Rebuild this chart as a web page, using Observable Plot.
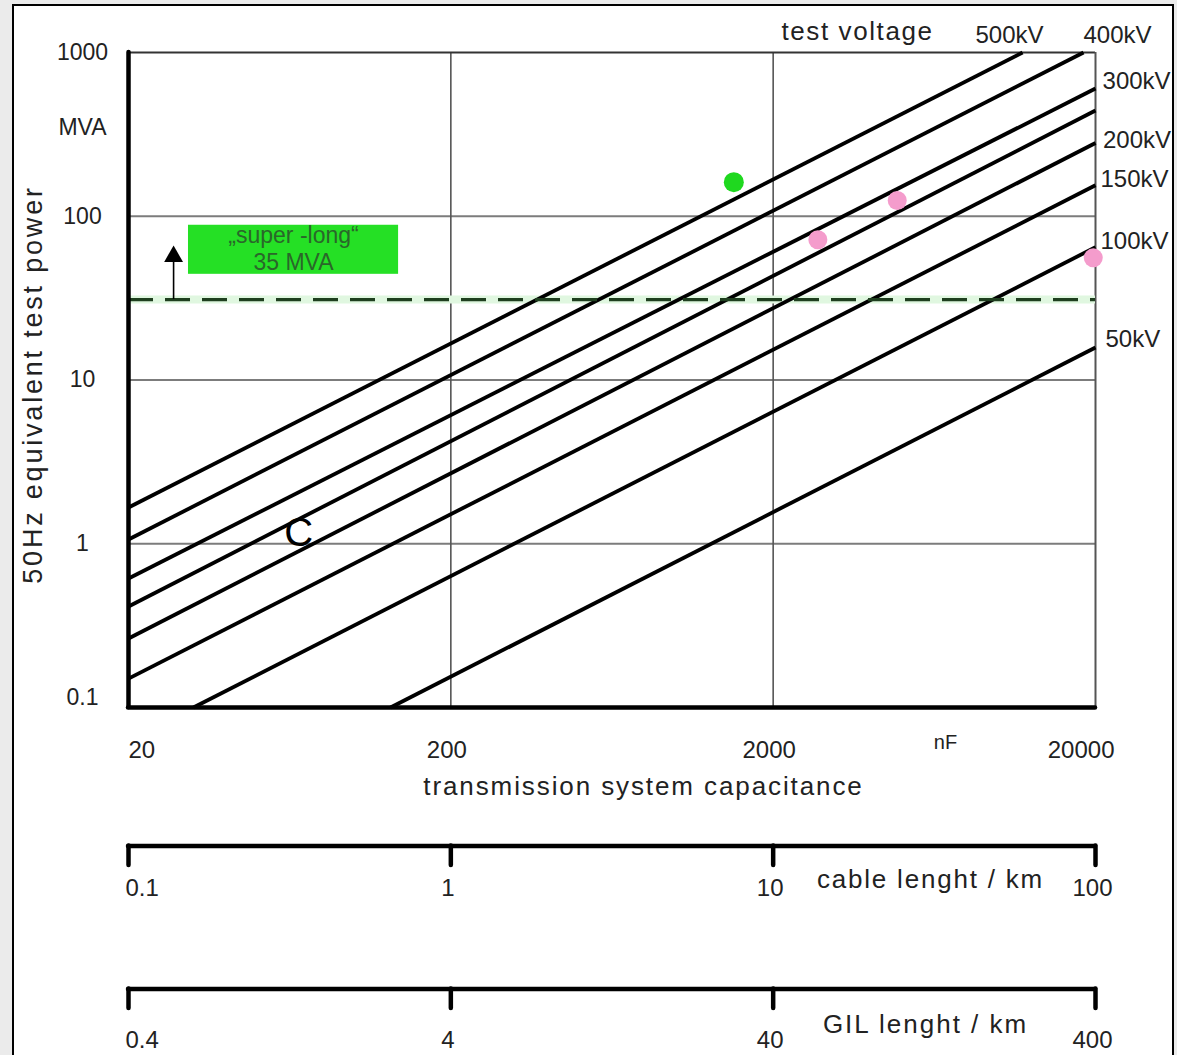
<!DOCTYPE html>
<html><head><meta charset="utf-8">
<script src="https://cdn.jsdelivr.net/npm/d3@7"></script>
<script src="https://cdn.jsdelivr.net/npm/@observablehq/plot@0.6"></script>
<style>
html,body{margin:0;padding:0;overflow:hidden;background:#ebebeb;width:1177px;height:1055px}
#panel{position:absolute;left:12px;top:4px;width:1158px;height:1100px;border:2px solid #000;background:#fff;overflow:hidden}
</style></head><body><div id="panel"></div>
<script>
// test-voltage lines (capacitance nF, power MVA)
const voltages   = ["500kV","400kV","300kV","250kV","200kV","150kV","100kV","50kV"];
const lineStartC = [20, 20, 20, 20, 20, 20, 31.8, 130];
const lineStartP = [1.665, 1.062, 0.613, 0.414, 0.264, 0.150, 0.1, 0.1];
const lineEndC   = [11880, 18360, 20000, 20000, 20000, 20000, 20000, 20000];
const lineEndP   = [1000, 1000, 603, 442, 280, 154.5, 64.7, 15.8];

// voltage labels
const sideLabels = ["300kV","200kV","150kV","100kV","50kV"];
const sideLabelC = [21030, 21100, 20730, 20730, 21480];
const sideLabelP = [665, 290, 168, 70, 17.7];
const topLabels  = ["500kV","400kV"];
const topLabelC  = [10820, 23400];
const topLabelP  = [1270, 1270];

// points
const greenC = [1510];
const greenP = [161.5];
const pinkC  = [2752, 4852, 19680];
const pinkP  = [71.8, 124.8, 55.7];

// "super-long" annotation
const superLongP = [31];
const boxC = [30.7, 137.7];
const boxP = [44.2, 88.1];
const boxLines = ["„super -long“", "35 MVA"];
const boxLineP = [76.3, 52.2];
const boxTextC = 65;
const arrowC = 27.6;
const arrowTipP = 56.8;

// axes
const xTicks = [20, 200, 2000, 20000];
const yTicks = [1000, 100, 10, 1];
const gridP = [100, 10, 1];
const gridC = [200, 2000];
const cableTicks = [0.1, 1, 10, 100];  // km  (200 nF per km)
const gilTicks   = [0.4, 4, 40, 400];  // km  (50 nF per km)
const cableNfPerKm = 200;
const gilNfPerKm = 50;

const font = "Liberation Sans, Arial, Helvetica, sans-serif";
const ink = "#222";

const links = voltages.map((v, i) => ({v, c1: lineStartC[i], p1: lineStartP[i], c2: lineEndC[i], p2: lineEndP[i]}));
const sideRows = sideLabels.map((t, i) => ({t, c: sideLabelC[i], p: sideLabelP[i]}));
const topRows = topLabels.map((t, i) => ({t, c: topLabelC[i], p: topLabelP[i]}));
const greenRows = greenC.map((c, i) => ({c, p: greenP[i]}));
const pinkRows = pinkC.map((c, i) => ({c, p: pinkP[i]}));
const boxRow = [{c1: boxC[0], c2: boxC[1], p1: boxP[0], p2: boxP[1]}];
const boxTextRows = boxLines.map((t, i) => ({t, c: boxTextC, p: boxLineP[i]}));

const L = {lineAnchor: "middle", fill: ink};

const plot = Plot.plot({
  width: 1158, height: 1049,
  marginLeft: 114, marginRight: 77, marginTop: 46, marginBottom: 348,
  x: {type: "log", domain: [20, 20000], axis: null},
  y: {type: "log", domain: [0.1, 1000], axis: null},
  style: {fontFamily: font, background: "transparent", overflow: "hidden", color: ink},
  marks: [
    Plot.ruleY(gridP, {stroke: "#7c7c7c", strokeWidth: 2.2}),
    Plot.ruleX(gridC, {stroke: "#555", strokeWidth: 1.6}),
    Plot.ruleY([1000], {stroke: "#333", strokeWidth: 2}),
    Plot.ruleX([20000], {stroke: "#555", strokeWidth: 2}),
    Plot.ruleY(superLongP, {stroke: "#e0f7e0", strokeWidth: 8}),
    Plot.link(links, {x1: "c1", y1: "p1", x2: "c2", y2: "p2", stroke: "#000", strokeWidth: 3.8}),
    Plot.ruleY(superLongP, {stroke: "#1f3f1f", strokeWidth: 3.2, strokeDasharray: "25,12"}),
    Plot.rect(boxRow, {x1: "c1", x2: "c2", y1: "p1", y2: "p2", fill: "#25e025"}),
    Plot.text(boxTextRows, {x: "c", y: "p", text: "t", fontSize: 23, fill: "#2a672a"}),
    Plot.ruleX([arrowC], {y1: superLongP[0], y2: arrowTipP, stroke: "#000", strokeWidth: 1.6}),
    Plot.dot([arrowC], {x: d => d, y: arrowTipP, symbol: "triangle", r: 7, fill: "#000"}),
    Plot.dot(greenRows, {x: "c", y: "p", r: 10, fill: "#1fd81f"}),
    Plot.dot(pinkRows, {x: "c", y: "p", r: 9.5, fill: "#f49ccc"}),
    Plot.text([{t: "C", c: 67.4, p: 1.155}], {x: "c", y: "p", text: "t", fontSize: 40, fill: "#000"}),
    // main axes
    Plot.ruleX([20], {y1: 0.1, y2: 1000, stroke: "#000", strokeWidth: 4.5, strokeLinecap: "round"}),
    Plot.ruleY([0.1], {x1: 20, x2: 20000, stroke: "#000", strokeWidth: 4.5, strokeLinecap: "round"}),
    // y tick labels
    Plot.text(yTicks, {y: d => d, text: d => String(d), frameAnchor: "left", textAnchor: "middle", dx: -46, fontSize: 23, ...L}),
    Plot.text([0.1], {y: d => d, text: d => String(d), frameAnchor: "left", textAnchor: "middle", dx: -46, dy: -10, fontSize: 23, ...L}),
    Plot.text(["MVA"], {y: 348, text: d => d, frameAnchor: "left", textAnchor: "middle", dx: -46, fontSize: 23, ...L}),
    Plot.text(["50Hz equivalent test power"], {y: 9.39, text: d => d, frameAnchor: "left", textAnchor: "middle", dx: -95, rotate: -90, fontSize: 27, ...L}),
    // x tick labels
    Plot.text([xTicks[0]], {x: d => d, text: d => String(d), frameAnchor: "bottom", dy: 43, textAnchor: "start", fontSize: 24, ...L}),
    Plot.text(xTicks.slice(1, 3), {x: d => d, text: d => String(d), frameAnchor: "bottom", dy: 43, dx: -4, textAnchor: "middle", fontSize: 24, ...L}),
    Plot.text([xTicks[3]], {x: d => d, text: d => String(d), frameAnchor: "bottom", dy: 43, dx: 19, textAnchor: "end", fontSize: 24, ...L}),
    Plot.text(["nF"], {x: 6850, text: d => d, frameAnchor: "bottom", dy: 35, textAnchor: "middle", fontSize: 20, ...L}),
    Plot.text(["transmission system capacitance"], {x: 792, text: d => d, frameAnchor: "bottom", dy: 79, textAnchor: "middle", fontSize: 26, ...L}),
    // voltage labels
    Plot.text(["test voltage"], {x: 3654, y: 1343, text: d => d, fontSize: 26, ...L}),
    Plot.text(topRows, {x: "c", y: "p", text: "t", fontSize: 24, ...L}),
    Plot.text(sideRows, {x: "c", y: "p", text: "t", textAnchor: "start", fontSize: 24, ...L}),
    // cable length scale
    Plot.ruleY([0.1], {x1: 20, x2: 20000, dy: 138.5, stroke: "#000", strokeWidth: 4.5, strokeLinecap: "round"}),
    Plot.ruleX(cableTicks, {x: d => d * cableNfPerKm, y1: 0.1, y2: 0.1, dy: 138.5, insetBottom: -19.5, stroke: "#000", strokeWidth: 4.5, strokeLinecap: "round"}),
    Plot.text([cableTicks[0]], {x: d => d * cableNfPerKm, text: d => String(d), frameAnchor: "bottom", dy: 181, dx: -3, textAnchor: "start", fontSize: 24, ...L}),
    Plot.text(cableTicks.slice(1), {x: d => d * cableNfPerKm, text: d => String(d), frameAnchor: "bottom", dy: 181, dx: -3, textAnchor: "middle", fontSize: 24, ...L}),
    Plot.text(["cable lenght / km"], {x: 6152, text: d => d, frameAnchor: "bottom", dy: 172, textAnchor: "middle", fontSize: 26, ...L}),
    // GIL length scale
    Plot.ruleY([0.1], {x1: 20, x2: 20000, dy: 281.5, stroke: "#000", strokeWidth: 4.5, strokeLinecap: "round"}),
    Plot.ruleX(gilTicks, {x: d => d * gilNfPerKm, y1: 0.1, y2: 0.1, dy: 281.5, insetBottom: -19.5, stroke: "#000", strokeWidth: 4.5, strokeLinecap: "round"}),
    Plot.text([gilTicks[0]], {x: d => d * gilNfPerKm, text: d => String(d), frameAnchor: "bottom", dy: 333, dx: -3, textAnchor: "start", fontSize: 24, ...L}),
    Plot.text(gilTicks.slice(1), {x: d => d * gilNfPerKm, text: d => String(d), frameAnchor: "bottom", dy: 333, dx: -3, textAnchor: "middle", fontSize: 24, ...L}),
    Plot.text(["GIL lenght / km"], {x: 5940, text: d => d, frameAnchor: "bottom", dy: 317, textAnchor: "middle", fontSize: 26, ...L})
  ]
});

const spacing = new Map([
  ["test voltage", 1.6],
  ["transmission system capacitance", 1.9],
  ["cable lenght / km", 1.8],
  ["GIL lenght / km", 2],
  ["50Hz equivalent test power", 2.8]
]);
d3.select(plot).selectAll("text").each(function () {
  const s = spacing.get(this.textContent);
  if (s != null) this.setAttribute("letter-spacing", s);
});
document.getElementById("panel").appendChild(plot);
</script></body></html>
